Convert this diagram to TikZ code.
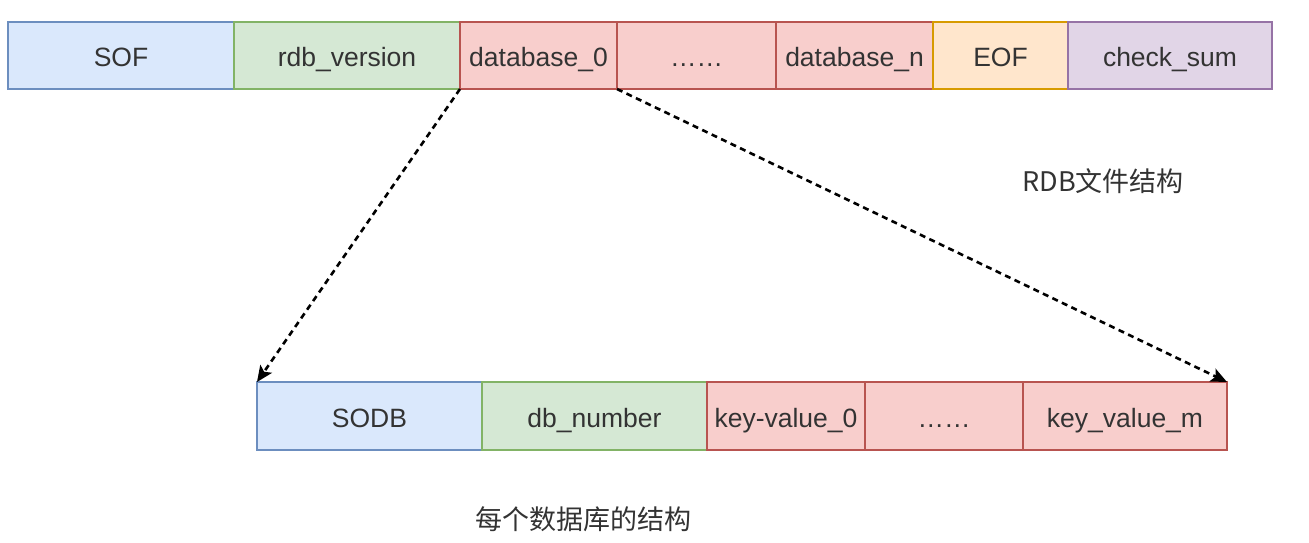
\documentclass[tikz,border=0pt]{standalone}
\usepackage{fontspec}
\setmainfont{Liberation Sans}
\newfontfamily\cjk{Noto Sans CJK SC}
\usetikzlibrary{arrows.meta}
\definecolor{txt}{HTML}{333333}
\definecolor{bfill}{HTML}{DAE8FC}\definecolor{bdraw}{HTML}{6C8EBF}
\definecolor{gfill}{HTML}{D5E8D4}\definecolor{gdraw}{HTML}{82B366}
\definecolor{rfill}{HTML}{F8CECC}\definecolor{rdraw}{HTML}{B85450}
\definecolor{ofill}{HTML}{FFE6CC}\definecolor{odraw}{HTML}{D79B00}
\definecolor{pfill}{HTML}{E1D5E7}\definecolor{pdraw}{HTML}{9673A6}
\begin{document}
\begin{tikzpicture}[x=1pt,y=-1pt,
  cell/.style={draw, line width=2pt, inner sep=0pt, outer sep=0pt, text=txt,
    font=\fontsize{26.5}{30}\selectfont, text height=24pt, text depth=2pt,
    anchor=north west},
  blue/.style={cell, fill=bfill, draw=bdraw},
  green/.style={cell, fill=gfill, draw=gdraw},
  red/.style={cell, fill=rfill, draw=rdraw},
  orange/.style={cell, fill=ofill, draw=odraw},
  purple/.style={cell, fill=pfill, draw=pdraw},
  link/.style={draw=black, line width=2.6pt, dash pattern=on 6pt off 4.5pt,
    -{Stealth[length=16pt,width=14pt,inset=3.5pt]}},
  caption/.style={text=txt, font=\cjk\fontsize{27}{31}\selectfont, inner sep=0pt}]
\useasboundingbox (0,0) rectangle (1309,542);
% top row (y 22..89)
\node[blue,   minimum width=226pt, minimum height=67pt] (sof) at (8,22) {SOF};
\node[green,  minimum width=226pt, minimum height=67pt] (ver) at (234,22) {rdb\_version};
\node[red,    minimum width=157pt, minimum height=67pt] (db0) at (460,22) {database\_0};
\node[red,    minimum width=159pt, minimum height=67pt] (dots1) at (617,22) {……};
\node[red,    minimum width=157pt, minimum height=67pt] (dbn) at (776,22) {database\_n};
\node[orange, minimum width=135pt, minimum height=67pt] (eof) at (933,22) {EOF};
\node[purple, minimum width=204pt, minimum height=67pt] (cks) at (1068,22) {check\_sum};
% bottom row (y 382..450)
\node[blue,  minimum width=225pt, minimum height=68pt] (sodb) at (257,382) {SODB};
\node[green, minimum width=225pt, minimum height=68pt] (dbnum) at (482,382) {db\_number};
\node[red,   minimum width=158pt, minimum height=68pt] (kv0) at (707,382) {key-value\_0};
\node[red,   minimum width=158pt, minimum height=68pt] (dots2) at (865,382) {……};
\node[red,   minimum width=204pt, minimum height=68pt] (kvm) at (1023,382) {key\_value\_m};
% connectors
\draw[link] (db0.south west) -- (sodb.north west);
\draw[link] (db0.south east) -- (kvm.north east);
% captions
\node[caption] (cap1) at (1103,181) {RDB文件结构};
\node[caption] (cap2) at (583,519) {每个数据库的结构};
\end{tikzpicture}
\end{document}
